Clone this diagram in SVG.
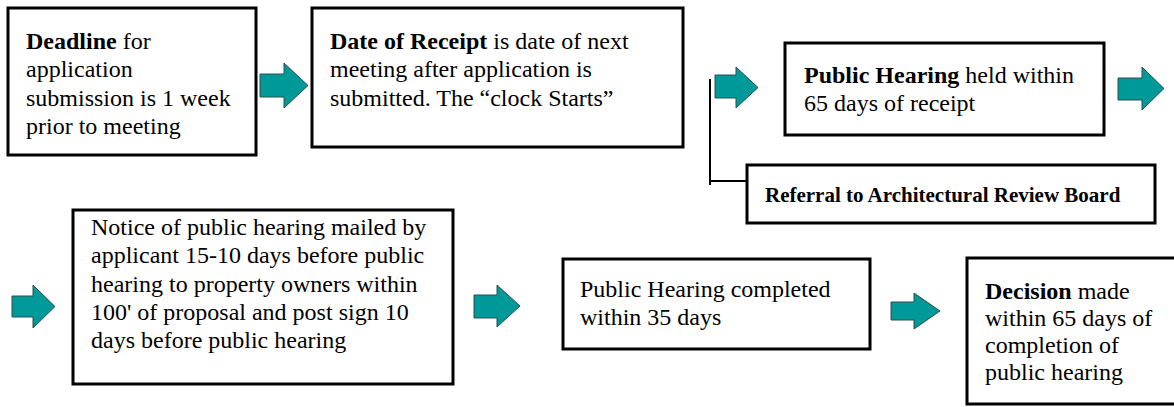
<svg xmlns="http://www.w3.org/2000/svg" width="1174" height="407" viewBox="0 0 1174 407">
  <style>
    .box { fill: #ffffff; stroke: #000000; stroke-width: 3; }
    .txt { font-family: "Liberation Serif", "Times New Roman", serif; font-size: 24px; fill: #000000; }
    .small { font-size: 21px; font-weight: bold; }
    .b { font-weight: bold; }
    .arrow { fill: #009999; stroke: #2f4f4f; stroke-width: 1; stroke-linejoin: miter; }
    .link { fill: none; stroke: #000000; stroke-width: 2; }
  </style>
  <defs>
    <!-- block arrow, 48 wide x 45 tall, origin at left end of its shaft centreline -->
    <polygon id="blockArrow" points="0,-11.5 24,-11.5 24,-22.5 48,0 24,22.5 24,11.5 0,11.5"/>
  </defs>

  <rect width="1174" height="407" fill="#ffffff"/>

  <!-- connectors: block arrows and the referral bracket -->
  <g id="connectors">
    <polygon class="arrow" points="260,74 284,74 284,63 308,85.5 284,108 284,97 260,97"/>
    <polygon class="arrow" points="715,75 736,75 736,67 758,87.5 736,108 736,98 715,98"/>
    <polygon class="arrow" points="1118,78 1142,78 1142,67 1164,88.5 1142,110 1142,100 1118,100"/>
    <polygon class="arrow" points="12,296 33,296 33,285 55,306.5 33,328 33,317 12,317"/>
    <polygon class="arrow" points="474,295 497,295 497,285 520,306 497,327 497,318 474,318"/>
    <polygon class="arrow" points="891,302 914,302 914,293 940,311 914,329 914,320 891,320"/>
    <polyline class="link" points="710,79 710,185"/>
    <polyline class="link" points="710,181 747,181"/>
  </g>

  <g id="deadline">
    <rect class="box" x="8" y="8" width="248" height="147"/>
    <text class="txt" x="26" y="49"><tspan class="b">Deadline</tspan> for</text>
    <text class="txt" x="26" y="77">application</text>
    <text class="txt" x="26" y="106">submission is 1 week</text>
    <text class="txt" x="26" y="134">prior to meeting</text>
  </g>

  <g id="receipt">
    <rect class="box" x="312" y="8" width="371" height="139"/>
    <text class="txt" x="330" y="49"><tspan class="b">Date of Receipt</tspan> is date of next</text>
    <text class="txt" x="330" y="77">meeting after application is</text>
    <text class="txt" x="330" y="106">submitted. The “clock Starts”</text>
  </g>

  <g id="hearing">
    <rect class="box" x="785" y="43" width="319" height="92"/>
    <text class="txt" x="804" y="83"><tspan class="b">Public Hearing</tspan> held within</text>
    <text class="txt" x="804" y="111">65 days of receipt</text>
  </g>

  <g id="referral">
    <rect class="box" x="747" y="165" width="408" height="58"/>
    <text class="txt small" x="765" y="202">Referral to Architectural Review Board</text>
  </g>

  <g id="notice">
    <rect class="box" x="73" y="210" width="380" height="174"/>
    <text class="txt" x="91" y="235">Notice of public hearing mailed by</text>
    <text class="txt" x="91" y="263">applicant 15-10 days before public</text>
    <text class="txt" x="91" y="292">hearing to property owners within</text>
    <text class="txt" x="91" y="320">100' of proposal and post sign 10</text>
    <text class="txt" x="91" y="348">days before public hearing</text>
  </g>

  <g id="completed">
    <rect class="box" x="563" y="259" width="307" height="90"/>
    <text class="txt" x="580" y="297">Public Hearing completed</text>
    <text class="txt" x="580" y="325">within 35 days</text>
  </g>

  <g id="decision">
    <rect class="box" x="967" y="258" width="215" height="146"/>
    <text class="txt" x="985" y="299"><tspan class="b">Decision</tspan> made</text>
    <text class="txt" x="985" y="326">within 65 days of</text>
    <text class="txt" x="985" y="353">completion of</text>
    <text class="txt" x="985" y="380">public hearing</text>
  </g>
</svg>
